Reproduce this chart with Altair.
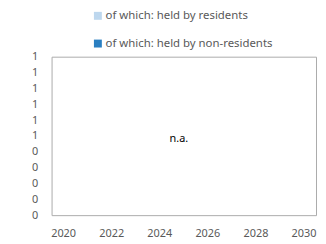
import altair as alt
import pandas as pd

years = list(range(2020, 2031))
series = ["of which: held by residents", "of which: held by non-residents"]
colors = ["#BDD7EE", "#2A7FC1"]
y_ticks = [0, 0.1, 0.2, 0.3, 0.4, 0.5, 0.6, 0.7, 0.8, 0.9, 1.0]
x_labels = [2020, 2022, 2024, 2026, 2028, 2030]
note_text = "n.a."
note_year = 2025
note_value = 0.5

rows = [{"year": y, "series": s, "value": None} for y in years for s in series]
df = pd.DataFrame(rows)
note_df = pd.DataFrame([{"year": note_year, "value": note_value, "label": note_text}])

FONT = "Noto Sans"
GREY = "#595959"

x_enc = alt.X("year:O", scale=alt.Scale(domain=years, paddingInner=0.3, paddingOuter=0.15),
              axis=alt.Axis(values=x_labels, title=None, labelAngle=0, ticks=False, domain=False,
                            labelPadding=13, labelFontSize=11, labelColor=GREY, labelFont=FONT,
                            labelOverlap=False))
y_enc = alt.Y("value:Q", scale=alt.Scale(domain=[0, 1], nice=False),
              axis=alt.Axis(values=y_ticks, format=".0f", title=None, ticks=False, domain=False, grid=False,
                            labelPadding=14, labelFontSize=11, labelColor=GREY, labelFont=FONT,
                            labelOverlap=False, labelBound=False, tickCount=11))

bars = alt.Chart(df).mark_bar().encode(
    x=x_enc,
    y=y_enc,
    color=alt.Color("series:N", scale=alt.Scale(domain=series, range=colors), sort=series,
                    legend=alt.Legend(title=None, orient="none", legendX=41, legendY=-47,
                                      direction="vertical", symbolType="square", symbolSize=64,
                                      symbolStrokeWidth=0, labelFontSize=11.5, labelColor=GREY,
                                      labelFont=FONT, rowPadding=15, labelOffset=2, labelLimit=400)),
    xOffset=alt.XOffset("series:N", sort=series),
)

note = alt.Chart(note_df).mark_text(fontSize=11, font=FONT, color="#000000", dy=3, dx=-5).encode(
    x=x_enc,
    y=y_enc,
    text="label:N",
)

chart = alt.layer(bars, note).properties(
    width=267, height=160,
    autosize=alt.AutoSizeParams(type="none"),
    padding={"left": 44, "top": 48, "right": 2, "bottom": 30},
).configure_view(stroke="#ABABAB", strokeWidth=1)

chart.save("out.html", embed_options={"renderer": "svg", "actions": False})
